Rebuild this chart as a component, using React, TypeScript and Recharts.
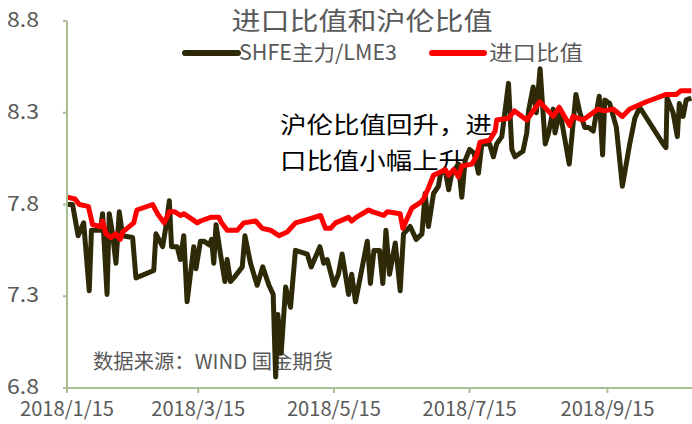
import { Line, LineChart, XAxis, YAxis } from "recharts";

// day offsets from 2018/1/15
const shfeDays = [
  0, 2.5, 5, 7.5, 10, 11, 15, 16, 18, 19, 20.5, 22, 23.5, 25, 29.5, 31, 39, 40, 43, 44.5, 46, 47,
  49.5, 51, 52.5, 54, 57, 58, 60, 61.5, 64, 65, 66, 67, 69, 71, 72, 73.5, 75, 78.8, 80, 82.5, 85.5,
  88, 90.8, 92.7, 93.8, 94.8, 96.3, 98.3, 100.5, 102.7, 108, 109.8, 113.7, 115.4, 117, 120, 122,
  123.7, 126.6, 128, 129.7, 135, 136.4, 138, 140.5, 142, 143.4, 145, 147.6, 149.8, 151.3, 154.3,
  157, 159.6, 161, 162.5, 164.8, 167, 168, 170, 171.6, 173, 176, 177.5, 179, 181, 183, 185, 186.5,
  190, 191.7, 193.2, 195.5, 198.5, 200, 201.4, 205, 206.7, 207.5, 209.6, 211, 212.7, 215, 216.5,
  218.6, 219.4, 221.6, 225.8, 228.8, 230.6, 232.8, 234.5, 236.6, 239.3, 240.8, 241.8, 244, 247,
  249.7, 253, 255.3, 257.5, 268, 269.3, 269.8, 272.5, 274.4, 275.3, 277, 278.4, 280.7,
];
const shfeValues = [
  7.8, 7.8, 7.63, 7.7, 7.33, 7.66, 7.66, 7.75, 7.31, 7.75, 7.64, 7.48, 7.76, 7.63, 7.62, 7.4, 7.44,
  7.64, 7.57, 7.68, 7.82, 7.57, 7.57, 7.5, 7.63, 7.27, 7.57, 7.45, 7.6, 7.6, 7.58, 7.61, 7.48, 7.69,
  7.53, 7.38, 7.5, 7.38, 7.4, 7.46, 7.63, 7.48, 7.36, 7.46, 7.36, 7.31, 6.86, 7.2, 6.99, 7.35, 7.24,
  7.55, 7.53, 7.46, 7.57, 7.48, 7.5, 7.36, 7.42, 7.53, 7.31, 7.42, 7.27, 7.6, 7.37, 7.55, 7.55, 7.37,
  7.66, 7.42, 7.59, 7.33, 7.64, 7.68, 7.61, 7.64, 7.86, 7.68, 7.86, 7.9, 7.97, 7.99, 7.88, 7.97,
  8.02, 7.84, 8.04, 8.1, 8.08, 7.97, 8.13, 8.13, 8.06, 8.13, 8.17, 8.46, 8.1, 8.06, 8.09, 8.19,
  8.31, 8.44, 8.3, 8.54, 8.13, 8.19, 8.32, 8.19, 8.31, 8.02, 8.4, 8.3, 8.22, 8.22, 8.2, 8.39, 8.07,
  8.37, 8.35, 8.22, 7.9, 8.13, 8.27, 8.33, 8.13, 8.11, 8.38, 8.3, 8.17, 8.35, 8.28, 8.37, 8.38,
];

const importDays = [
  0, 3.6, 5.5, 9.6, 11.5, 15, 16, 17.5, 19.7, 22, 24, 25, 27, 30, 31.4, 38.5, 40.7, 43.7, 46, 48.5,
  51, 52.5, 55, 58.6, 60, 64.6, 68.3, 69.5, 72, 76.6, 79.5, 84.8, 87.8, 91.5, 95.3, 99, 102.7, 108.7,
  114, 116.2, 118.5, 120.7, 126.6, 128, 130, 135.6, 137.5, 140, 142.4, 144, 149.8, 151, 155, 158.8,
  160.3, 162.5, 164.8, 170, 171.6, 173.8, 176, 177.5, 182, 184, 185.7, 190, 192.5, 193.2, 198.5,
  201.2, 206.7, 212.5, 218.6, 221.3, 226, 227.5, 232, 238.8, 241.5, 245.5, 249.7, 253, 260.5, 269.5,
  274, 276, 280.7,
];
const importValues = [
  7.84, 7.83, 7.8, 7.79, 7.69, 7.68, 7.71, 7.64, 7.62, 7.64, 7.61, 7.65, 7.67, 7.7, 7.77, 7.8, 7.75,
  7.7, 7.76, 7.76, 7.74, 7.75, 7.73, 7.7, 7.71, 7.73, 7.73, 7.7, 7.66, 7.66, 7.7, 7.71, 7.67, 7.66,
  7.63, 7.65, 7.7, 7.72, 7.74, 7.67, 7.67, 7.7, 7.73, 7.71, 7.73, 7.77, 7.76, 7.75, 7.74, 7.76, 7.75,
  7.67, 7.78, 7.81, 7.83, 7.89, 7.96, 7.99, 7.96, 7.99, 7.95, 8.01, 8.02, 8.06, 8.14, 8.15, 8.2,
  8.26, 8.27, 8.31, 8.26, 8.36, 8.28, 8.33, 8.23, 8.28, 8.26, 8.32, 8.31, 8.32, 8.28, 8.32, 8.36,
  8.4, 8.4, 8.42, 8.42,
];

const xTicks = [0, 59, 120, 181, 243];
const xTickLabels = ["2018/1/15", "2018/3/15", "2018/5/15", "2018/7/15", "2018/9/15"];
const yTicks = [6.8, 7.3, 7.8, 8.3, 8.8];

const shfeData = shfeDays.map((d, i) => ({ day: d, value: shfeValues[i] }));
const importData = importDays.map((d, i) => ({ day: d, value: importValues[i] }));

const GRAY = "#595959";
const AXIS = "#A9BE93";
const DARK = "#2E2A07";
const RED = "#FF0000";
const FONT = "'Noto Sans CJK SC', 'Noto Sans', sans-serif";

function XTick({ x, y, payload }: any) {
  const label = xTickLabels[xTicks.indexOf(payload.value)];
  return (
    <text
      x={x}
      y={y}
      dy={19}
      textAnchor="middle"
      fill={GRAY}
      fontSize={20}
      fontFamily={FONT}
      textLength={94}
      lengthAdjust="spacingAndGlyphs"
    >
      {label}
    </text>
  );
}

function YTick({ x, y, payload }: any) {
  return (
    <text
      x={x}
      y={y}
      dy={6}
      textAnchor="end"
      fill={GRAY}
      fontSize={20}
      fontFamily={FONT}
      textLength={32}
      lengthAdjust="spacingAndGlyphs"
    >
      {payload.value.toFixed(1)}
    </text>
  );
}

export default function App() {
  return (
    <div style={{ position: "absolute", left: 0, top: 0, width: 692, height: 424, background: "#fff" }}>
      <svg width={692} height={424} style={{ position: "absolute", left: 0, top: 0 }}>
        <text x={362} y={30} textAnchor="middle" fill={GRAY} fontSize={25} fontFamily={FONT} textLength={261} lengthAdjust="spacingAndGlyphs">
          进口比值和沪伦比值
        </text>
        {/* legend */}
        <line x1={185} y1={53} x2={238} y2={53} stroke={DARK} strokeWidth={6} strokeLinecap="round" />
        <text x={239} y={60} fill={GRAY} fontSize={21} fontFamily={FONT} textLength={158} lengthAdjust="spacingAndGlyphs">
          SHFE主力/LME3
        </text>
        <line x1={432} y1={53} x2={484} y2={53} stroke={RED} strokeWidth={6} strokeLinecap="round" />
        <text x={489} y={60} fill={GRAY} fontSize={21} fontFamily={FONT} textLength={94} lengthAdjust="spacingAndGlyphs">
          进口比值
        </text>
        <text x={280} y={133} fill="#000" fontSize={23} fontFamily={FONT} textLength={212} lengthAdjust="spacingAndGlyphs">
          沪伦比值回升，进
        </text>
        <text x={280} y={169} fill="#000" fontSize={23} fontFamily={FONT} textLength={185} lengthAdjust="spacingAndGlyphs">
          口比值小幅上升
        </text>
        <text x={93} y={369} fill={GRAY} fontSize={20} fontFamily={FONT} textLength={240} lengthAdjust="spacingAndGlyphs">
          数据来源：WIND 国金期货
        </text>
      </svg>
      <div style={{ position: "absolute", left: 0, top: 0 }}>
        <LineChart width={692} height={424} margin={{ top: 21, right: 0, bottom: 6, left: 9 }}>
          <XAxis
            type="number"
            dataKey="day"
            domain={[0, 281]}
            ticks={xTicks}
            tick={<XTick />}
            height={30}
            stroke={AXIS}
            strokeWidth={2}
            tickSize={5}
            tickMargin={4}
            allowDuplicatedCategory={false}
          />
          <YAxis
            type="number"
            domain={[6.8, 8.8]}
            ticks={yTicks}
            tick={<YTick />}
            width={58}
            stroke={AXIS}
            strokeWidth={2}
            tickSize={4}
            tickMargin={24}
          />
          <Line
            data={shfeData}
            dataKey="value"
            stroke={DARK}
            strokeWidth={5}
            dot={false}
            strokeLinejoin="round"
            isAnimationActive={false}
          />
          <Line
            data={importData}
            dataKey="value"
            stroke={RED}
            strokeWidth={5}
            dot={false}
            strokeLinejoin="round"
            isAnimationActive={false}
          />
        </LineChart>
      </div>
    </div>
  );
}
